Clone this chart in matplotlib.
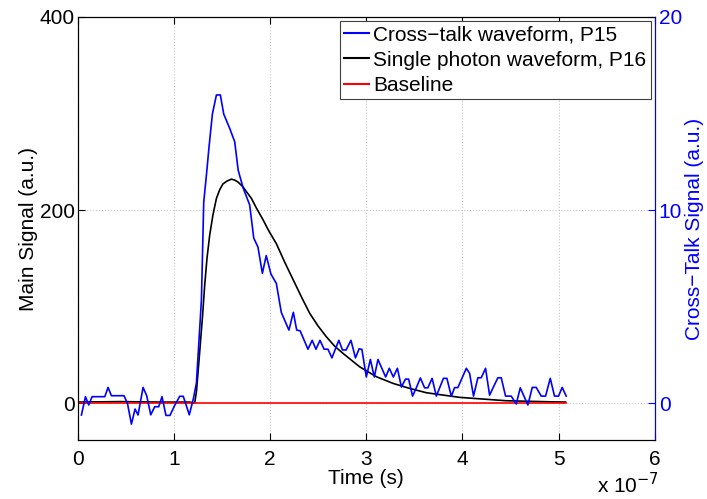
import matplotlib.pyplot as plt
from matplotlib.lines import Line2D

plt.rcParams['font.family'] = ['Liberation Sans', 'DejaVu Sans']
plt.rcParams['font.size'] = 15

# time axis in units of 1e-7 s
t_xtalk = [0.038, 0.080, 0.114, 0.149, 0.281, 0.315, 0.350, 0.481, 0.517, 0.558,
           0.596, 0.627, 0.679, 0.717, 0.759, 0.800, 0.842, 0.876, 0.917, 0.959,
           1.005, 1.060, 1.097, 1.160, 1.204, 1.234, 1.286, 1.310, 1.338, 1.365,
           1.400, 1.442, 1.483, 1.518, 1.580, 1.632, 1.668, 1.720, 1.788, 1.830,
           1.874, 1.920, 1.960, 2.009, 2.065, 2.117, 2.196, 2.242, 2.277, 2.313,
           2.394, 2.438, 2.477, 2.519, 2.562, 2.602, 2.643, 2.715, 2.753, 2.791,
           2.841, 2.888, 2.926, 2.955, 3.001, 3.043, 3.084, 3.122, 3.202, 3.240,
           3.282, 3.324, 3.366, 3.408, 3.441, 3.482, 3.521, 3.563, 3.607, 3.641,
           3.685, 3.729, 3.803, 3.839, 3.885, 3.919, 3.953, 4.041, 4.075, 4.116,
           4.161, 4.196, 4.241, 4.283, 4.324, 4.369, 4.404, 4.449, 4.508, 4.560,
           4.602, 4.681, 4.727, 4.768, 4.820, 4.865, 4.914, 4.958, 5.000, 5.038,
           5.080]
xtalk = [-0.62, 0.33, -0.10, 0.33, 0.33, 0.81, 0.38, 0.38, -0.02, -1.09,
         -0.31, -0.62, 0.81, 0.38, -0.61, -0.19, -0.19, 0.33, -0.64, -0.64,
         -0.15, 0.35, 0.35, -0.61, 0.26, 1.04, 5.34, 10.41, 11.81, 13.26,
         14.97, 15.96, 15.96, 14.97, 14.23, 13.54, 12.07, 11.14, 10.26, 8.55,
         8.08, 6.72, 7.64, 6.68, 6.20, 4.69, 3.78, 4.70, 3.78, 3.74,
         2.79, 3.25, 2.79, 3.25, 2.79, 2.79, 2.34, 3.25, 2.75, 2.75,
         3.25, 2.34, 2.81, 2.78, 1.35, 2.26, 1.35, 2.26, 1.35, 1.80,
         1.35, 1.80, 0.83, 1.24, 1.24, 0.36, 0.79, 1.30, 0.79, 0.79,
         1.28, 0.36, 1.28, 1.28, 0.35, 0.80, 0.80, 1.80, 1.54, 0.36,
         1.31, 1.31, 1.80, 0.41, 0.84, 1.31, 1.31, 0.36, 0.36, -0.05,
         0.79, -0.10, 0.81, 0.81, 0.36, 0.36, 1.28, 0.36, 0.36, 0.81,
         0.36]

t_single = [0.0, 0.437, 0.852, 1.164, 1.216, 1.234, 1.251, 1.268, 1.296, 1.320,
            1.344, 1.372, 1.406, 1.442, 1.476, 1.510, 1.552, 1.598, 1.632, 1.666,
            1.718, 1.754, 1.806, 1.858, 1.892, 1.926, 1.989, 2.066, 2.152, 2.239,
            2.326, 2.412, 2.498, 2.585, 2.671, 2.758, 2.931, 3.105, 3.278, 3.451,
            3.625, 3.797, 3.971, 4.109, 4.456, 4.906, 5.073]
single = [1.0, 1.5, 1.0, 1.0, 0.0, 11.7, 32, 53, 88, 122,
          150, 174, 195, 212, 221, 227, 230, 232, 231, 229,
          224, 219, 212, 202, 196, 190, 178, 165, 146, 128,
          110, 93, 80, 68.7, 59, 51.5, 37.6, 27.3, 20.4, 15.2,
          10.7, 8.3, 5.9, 4.9, 2.4, 1.3, 1.0]

t_base = [0.0, 5.073]
base = [0.0, 0.0]

fig = plt.figure(figsize=(7.07, 4.99), dpi=100)
ax1 = fig.add_axes([0.110, 0.118, 0.816, 0.848])
ax2 = ax1.twinx()

ax1.plot(t_single, single, color='black', lw=1.2)
ax1.plot(t_base, base, color='red', lw=1.2)
ax2.plot(t_xtalk, xtalk, color='blue', lw=1.2)

ax1.set_xlim(0, 6)
ax1.set_ylim(-38.4, 400)
ax2.set_ylim(-1.92, 20)
ax1.set_xticks(range(7))
ax1.set_yticks([0, 200, 400])
ax2.set_yticks([0, 10, 20])

ax1.grid(True, linestyle=':', color='#c8c8c8', lw=0.8)
ax1.tick_params(direction='in', length=5, labelsize=15, top=True, right=False)
ax1.tick_params(axis='x', pad=7)
ax1.tick_params(axis='y', pad=2)
ax2.tick_params(direction='in', length=5, labelsize=15, colors='blue', pad=3)
ax2.spines['right'].set_color('blue')

ax1.set_xlabel('Time (s)', fontsize=15, labelpad=0)
ax1.set_ylabel('Main Signal (a.u.)', fontsize=15)
ax1.yaxis.set_label_coords(-0.069, 0.5)
ax2.set_ylabel('Cross\u2212Talk Signal (a.u.)', fontsize=15, color='blue')
ax2.yaxis.set_label_coords(1.052, 0.5)
fig.text(0.845, 0.012, r'x 10$^{-7}$', fontsize=15)

handles = [Line2D([], [], color='blue'), Line2D([], [], color='black'), Line2D([], [], color='red')]
labels = ['Cross\u2212talk waveform, P15', 'Single photon waveform, P16', 'Baseline']
leg = ax2.legend(handles, labels, loc='upper right', fontsize=15, fancybox=False,
                 framealpha=1, edgecolor='#404040', handlelength=1.2, handletextpad=0.2,
                 borderpad=0.2, labelspacing=0.3, borderaxespad=0.2)
leg.get_frame().set_linewidth(0.8)

fig.savefig('out.png', dpi=100)
